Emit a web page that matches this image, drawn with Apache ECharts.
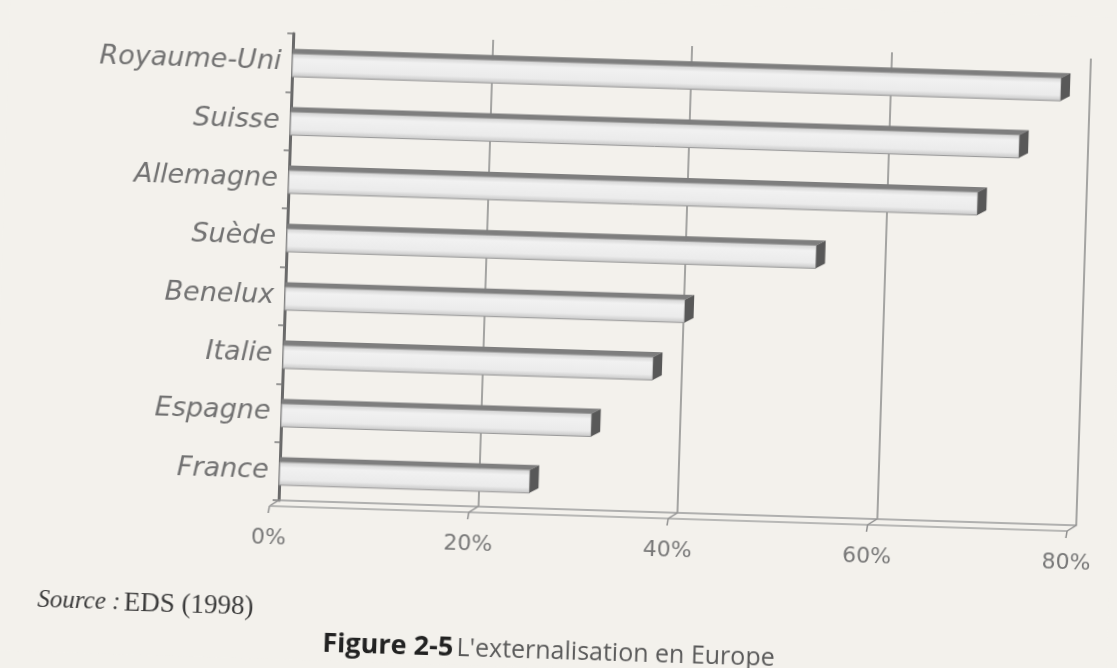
<!DOCTYPE html>
<html>
<head>
<meta charset="utf-8">
<script src="https://cdn.jsdelivr.net/npm/echarts@6/dist/echarts.min.js"></script>
<style>
  html, body { margin: 0; padding: 0; background: #f3f1ec; overflow: hidden; }
  #page { width: 1117px; height: 668px; transform: rotate(1.8deg); transform-origin: 50% 50%; }
</style>
</head>
<body>
<div id="page"></div>
<script>
// Part des entreprises ayant recours à l'externalisation, par pays (%)
const countries = ['Royaume-Uni', 'Suisse', 'Allemagne', 'Suède', 'Benelux', 'Italie', 'Espagne', 'France'];
const shares = [78, 74, 70, 54, 41, 38, 32, 26];
const shareTicks = [0, 20, 40, 60, 80];
const sourceLabel = 'Source :';
const sourceText = 'EDS (1998)';
const figureNumber = 'Figure 2-5';
const figureTitle = "L'externalisation en Europe";

// depth of the 3D projection (back wall is up and to the right)
const DX = 9, DY = -5;

const chart = echarts.init(document.getElementById('page'), null, { renderer: 'canvas' });

const faceGradient = new echarts.graphic.LinearGradient(0, 0, 0, 1, [
  { offset: 0, color: '#cfcfcf' },
  { offset: 0.25, color: '#f1f1f1' },
  { offset: 0.75, color: '#ebebeb' },
  { offset: 1, color: '#c4c4c4' }
]);

function renderBar(params, api) {
  const v = api.value(0);
  const cat = api.value(1);
  const start = api.coord([0, cat]);
  const end = api.coord([v, cat]);
  const c = start[1];
  const x0 = start[0];
  const x1 = end[0] - DX;
  const yT = c - 9, yB = c + 14;
  return {
    type: 'group',
    children: [
      { type: 'polygon', shape: { points: [[x0, yT], [x1, yT], [x1 + DX, yT + DY], [x0, yT + DY]] },
        style: { fill: '#7e7e7e' } },
      { type: 'rect', shape: { x: x0, y: yT, width: x1 - x0, height: yB - yT },
        style: { fill: faceGradient, stroke: '#989898', lineWidth: 1 } },
      { type: 'polygon', shape: { points: [[x1, yT], [x1 + DX, yT + DY], [x1 + DX, yB + DY], [x1, yB]] },
        style: { fill: '#585858' } }
    ]
  };
}

function renderFloorTick(params, api) {
  const cs = params.coordSys;
  const bottom = cs.y + cs.height;
  const x = api.coord([api.value(0), 0])[0];
  const children = [
    { type: 'line', shape: { x1: x, y1: bottom, x2: x - DX, y2: bottom + 6 },
      style: { stroke: '#8f8f8f', lineWidth: 1.5 } },
    { type: 'line', shape: { x1: x - DX, y1: bottom + 6, x2: x - DX - 1, y2: bottom + 13 },
      style: { stroke: '#8f8f8f', lineWidth: 1.5 } }
  ];
  if (params.dataIndex === 0) {
    const xEnd = api.coord([shareTicks[shareTicks.length - 1], 0])[0];
    children.push({ type: 'line', shape: { x1: x - DX, y1: bottom + 6, x2: xEnd - DX, y2: bottom + 6 },
      style: { stroke: '#a5a5a5', lineWidth: 1.5 } });
  }
  return { type: 'group', children };
}

chart.setOption({
  backgroundColor: '#f3f1ec',
  animation: false,
  grid: { left: 284, top: 42, width: 798, height: 467 },
  xAxis: {
    type: 'value',
    min: 0, max: 80, interval: 20,
    axisLine: { show: true, lineStyle: { color: '#9a9a9a', width: 1.5 } },
    axisTick: { show: false },
    splitLine: { show: true, lineStyle: { color: '#8a8a8a', width: 1.5 } },
    axisLabel: {
      formatter: '{value}%',
      fontFamily: 'DejaVu Sans', fontSize: 22, color: '#787878',
      margin: 27, padding: [0, 18, 0, 0]
    }
  },
  yAxis: {
    type: 'category',
    inverse: true,
    data: countries,
    axisLine: { show: true, lineStyle: { color: '#6a6a6a', width: 3 } },
    axisTick: { show: true, length: 6, lineStyle: { color: '#7a7a7a', width: 1.5 } },
    axisLabel: {
      fontFamily: 'DejaVu Sans', fontStyle: 'italic', fontSize: 27, color: '#727272', margin: 11
    }
  },
  series: [
    {
      type: 'custom',
      name: 'Externalisation',
      clip: false,
      renderItem: renderBar,
      encode: { x: 0, y: 1 },
      data: shares.map((v, i) => [v, i])
    },
    {
      type: 'custom',
      clip: false,
      silent: true,
      renderItem: renderFloorTick,
      encode: { x: 0, y: 1 },
      data: shareTicks.map(t => [t, 0])
    }
  ],
  graphic: [
    {
      type: 'text', left: 46, top: 603,
      style: {
        text: '{i|' + sourceLabel + '} {r|' + sourceText + '}',
        rich: {
          i: { fontFamily: 'Liberation Serif', fontStyle: 'italic', fontSize: 25, fill: '#3a3a3a' },
          r: { fontFamily: 'Liberation Serif', fontSize: 27, fill: '#3a3a3a' }
        }
      }
    },
    {
      type: 'text', left: 'center', top: 638,
      style: {
        text: '{b|' + figureNumber + '} {n|' + figureTitle + '}',
        rich: {
          b: { fontFamily: 'Open Sans', fontWeight: 'bold', fontSize: 27, fill: '#222222' },
          n: { fontFamily: 'Open Sans', fontSize: 25, fill: '#5a5a5a' }
        }
      }
    }
  ]
});
</script>
</body>
</html>
